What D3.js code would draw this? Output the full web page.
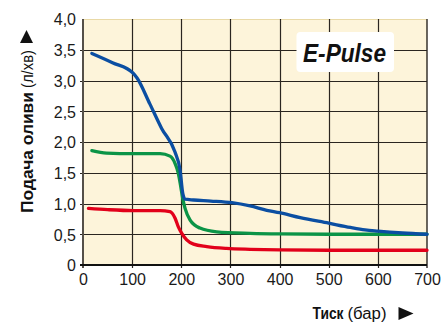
<!DOCTYPE html>
<html>
<head>
<meta charset="utf-8">
<script src="https://cdn.jsdelivr.net/npm/d3@7"></script>
<style>
  html, body { margin: 0; padding: 0; background: #ffffff; }
  svg { display: block; font-family: "Liberation Sans", Arial, sans-serif; }
</style>
</head>
<body>
<svg id="chart" width="447" height="327"></svg>
<script>
// Axis ticks
const pressureTicks = [0, 100, 200, 300, 400, 500, 600, 700];
const flowTicks = [0, 0.5, 1.0, 1.5, 2.0, 2.5, 3.0, 3.5, 4.0];
const flowTickLabels = ["0", "0,5", "1,0", "1,5", "2,0", "2,5", "3,0", "3,5", "4,0"];

// Blue curve (bar, l/min)
const bluePressure = [18, 60, 102, 110, 136, 160, 187, 197.5, 203, 207.7, 225, 260, 303, 340, 374, 400, 442, 500, 544, 574, 600, 650, 700];
const blueFlow     = [3.44, 3.29, 3.12, 3.04, 2.62, 2.22, 1.84, 1.545, 1.165, 1.07, 1.057, 1.04, 1.013, 0.96, 0.89, 0.85, 0.77, 0.68, 0.61, 0.57, 0.55, 0.52, 0.50];

// Green curve
const greenPressure = [18, 48, 102, 157, 177, 187.4, 194, 199, 203, 207.7, 218, 238, 272, 340, 400, 500, 600, 700];
const greenFlow     = [1.86, 1.82, 1.81, 1.81, 1.77, 1.65, 1.49, 1.27, 1.08, 0.92, 0.73, 0.60, 0.54, 0.515, 0.505, 0.50, 0.50, 0.50];

// Red curve
const redPressure = [11, 50, 102, 157, 177, 187.4, 194, 201, 211, 225, 252, 292, 340, 400, 500, 600, 700];
const redFlow     = [0.92, 0.90, 0.885, 0.885, 0.867, 0.76, 0.62, 0.515, 0.41, 0.34, 0.30, 0.27, 0.255, 0.245, 0.24, 0.24, 0.24];

const seriesColors = { blue: "#0b4ea2", green: "#0b9447", red: "#e2001a" };

const svg = d3.select("#chart");
const plotL = 83, plotR = 427, plotT = 19, plotB = 265;

const x = d3.scaleLinear().domain([0, 700]).range([plotL, plotR]);
const y = d3.scaleLinear().domain([0, 4]).range([plotB, plotT]);

// Plot background
svg.append("rect")
  .attr("x", plotL).attr("y", plotT)
  .attr("width", plotR - plotL).attr("height", plotB - plotT)
  .attr("fill", "#fdf4da");
svg.append("line")
  .attr("x1", plotL).attr("x2", plotR).attr("y1", plotT + 0.5).attr("y2", plotT + 0.5)
  .attr("stroke", "#e9d9a6").attr("stroke-width", 1);

// Grid
const grid = svg.append("g");
grid.selectAll("line.v").data(pressureTicks.slice(1, -1)).join("line")
  .attr("x1", d => Math.round(x(d)) + 0.5).attr("x2", d => Math.round(x(d)) + 0.5)
  .attr("y1", plotT).attr("y2", plotB + 3)
  .attr("stroke", "#2a2520").attr("stroke-width", 1.2);
grid.selectAll("line.h").data(flowTicks.slice(1)).join("line")
  .attr("x1", plotL - 3).attr("x2", plotR)
  .attr("y1", d => Math.round(y(d)) + 0.5).attr("y2", d => Math.round(y(d)) + 0.5)
  .attr("stroke", d => d === 4 ? "none" : "#2a2520").attr("stroke-width", 1.2);

// Frame: left, bottom, right
svg.append("line").attr("x1", plotL).attr("x2", plotL).attr("y1", plotT).attr("y2", plotB + 3)
  .attr("stroke", "#555049").attr("stroke-width", 2);
svg.append("line").attr("x1", plotR).attr("x2", plotR).attr("y1", plotT).attr("y2", plotB + 3)
  .attr("stroke", "#2a2520").attr("stroke-width", 1.4);
svg.append("line").attr("x1", plotL - 3).attr("x2", plotR).attr("y1", plotB).attr("y2", plotB)
  .attr("stroke", "#111").attr("stroke-width", 2);

// Tick labels via d3 axes (tick lines hidden, labels only)
const xAxis = d3.axisBottom(x).tickValues(pressureTicks).tickSize(0).tickPadding(0).tickFormat(d3.format("d"));
const gx = svg.append("g").attr("transform", `translate(0,${plotB + 9})`).call(xAxis);
gx.select(".domain").remove();
gx.selectAll("text").attr("font-size", 16).attr("fill", "#1a1a1a")
  .attr("font-family", "'Liberation Sans', Arial, sans-serif").attr("dy", "0.71em");

const yAxis = d3.axisLeft(y).tickValues(flowTicks).tickSize(0).tickPadding(0)
  .tickFormat((d, i) => flowTickLabels[i]);
const gy = svg.append("g").attr("transform", `translate(${plotL - 7},0)`).call(yAxis);
gy.select(".domain").remove();
gy.selectAll("text").attr("font-size", 16).attr("fill", "#1a1a1a")
  .attr("font-family", "'Liberation Sans', Arial, sans-serif").attr("dy", "0.36em");

// Curves
const line = d3.line().x(d => x(d[0])).y(d => y(d[1])).curve(d3.curveMonotoneX);
const series = [
  { name: "green", px: greenPressure, fy: greenFlow },
  { name: "red", px: redPressure, fy: redFlow },
  { name: "blue", px: bluePressure, fy: blueFlow }
];
svg.append("g").selectAll("path").data(series).join("path")
  .attr("d", s => line(s.px.map((p, i) => [p, s.fy[i]])))
  .attr("fill", "none")
  .attr("stroke", s => seriesColors[s.name])
  .attr("stroke-width", 3.3)
  .attr("stroke-linecap", "round")
  .attr("stroke-linejoin", "round");

// Model badge
svg.append("rect").attr("x", 296.5).attr("y", 32).attr("width", 97.5).attr("height", 40)
  .attr("rx", 4).attr("fill", "#ffffff");
svg.append("text").attr("x", 303).attr("y", 61.5)
  .attr("font-size", 25).attr("font-weight", "bold").attr("font-style", "italic")
  .attr("textLength", 83).attr("lengthAdjust", "spacingAndGlyphs")
  .attr("fill", "#111").text("E-Pulse");

// Y axis title
const yt = svg.append("g").attr("transform", "translate(33,213) rotate(-90)");
yt.append("text").attr("x", 0).attr("y", 0)
  .attr("font-size", 17).attr("font-weight", "bold")
  .attr("textLength", 121).attr("lengthAdjust", "spacingAndGlyphs")
  .attr("fill", "#111").text("Подача оливи");
yt.append("text").attr("x", 125).attr("y", 0)
  .attr("font-size", 17)
  .attr("textLength", 38).attr("lengthAdjust", "spacingAndGlyphs")
  .attr("fill", "#111").text("(л/хв)");
svg.append("path").attr("d", "M20,43 L33,43 L26.5,30 Z").attr("fill", "#111");

// X axis title
svg.append("text").attr("x", 312.5).attr("y", 319)
  .attr("font-size", 16).attr("font-weight", "bold")
  .attr("textLength", 31).attr("lengthAdjust", "spacingAndGlyphs")
  .attr("fill", "#111").text("Тиск");
svg.append("text").attr("x", 347.5).attr("y", 319)
  .attr("font-size", 16)
  .attr("textLength", 39).attr("lengthAdjust", "spacingAndGlyphs")
  .attr("fill", "#111").text("(бар)");
svg.append("path").attr("d", "M398.5,307 L398.5,320 L413.5,313.5 Z").attr("fill", "#111");
</script>
</body>
</html>
